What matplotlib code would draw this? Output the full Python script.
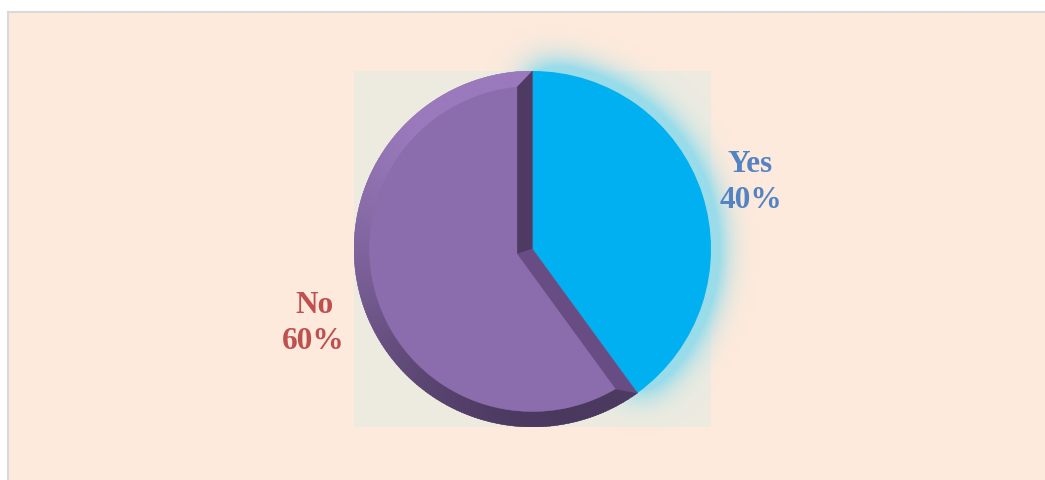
import numpy as np
import matplotlib
matplotlib.use("Agg")
import matplotlib.pyplot as plt
from matplotlib.patches import Polygon, Rectangle
from matplotlib.lines import Line2D
from matplotlib.colors import to_rgb

# ---- data ----
labels = ["Yes", "No"]
values = [40, 60]
pct_labels = ["40%", "60%"]
slice_colors = ["#00B0F0", "#8B6DAD"]
label_colors = ["#5383C3", "#C0504D"]

W, H = 1045, 480
fig = plt.figure(figsize=(W / 100, H / 100), dpi=100)
fig.patch.set_facecolor("white")

# outer chart background with top/left border
fig.add_artist(Rectangle((8 / W, 0), 1, (H - 12) / H, transform=fig.transFigure,
                         facecolor="#FDEADC", edgecolor="none", zorder=0))
fig.add_artist(Line2D([8 / W, 1], [(H - 12) / H] * 2, transform=fig.transFigure,
                      color="#D9D9D9", lw=1.5, zorder=1))
fig.add_artist(Line2D([8 / W] * 2, [0, (H - 12) / H], transform=fig.transFigure,
                      color="#D9D9D9", lw=1.5, zorder=1))

# plot area
px0, py0, pw, ph = 354, 71, 357, 356
ax = fig.add_axes([px0 / W, (H - py0 - ph) / H, pw / W, ph / H])
ax.set_facecolor("#EDEBE0")

wedges, _ = ax.pie(values, startangle=90, counterclock=False, colors=slice_colors,
                   radius=1.0, center=(0, 0), wedgeprops=dict(linewidth=0))
ax.set_frame_on(True)
for s in ax.spines.values():
    s.set_visible(False)
ax.set_xticks([])
ax.set_yticks([])

yes_w, no_w = wedges
yes_w.set_zorder(4)
no_w.set_zorder(3)

# ---- glow around the "Yes" slice (blurred mask) ----
ext = 1.5
n = 600
g = np.linspace(-ext, ext, n)
X, Y = np.meshgrid(g, g)
Rr = np.hypot(X, Y)
Ang = np.degrees(np.arctan2(Y, X))
t1, t2 = yes_w.theta1, yes_w.theta2
mask = ((Rr <= 1.0) & (Ang >= t1) & (Ang <= t2)).astype(float)
sigma = 0.1 / (2 * ext / n)
k = np.arange(-int(3 * sigma), int(3 * sigma) + 1)
kern = np.exp(-0.5 * (k / sigma) ** 2)
kern /= kern.sum()
blur = np.apply_along_axis(lambda r: np.convolve(r, kern, mode="same"), 1, mask)
blur = np.apply_along_axis(lambda c: np.convolve(c, kern, mode="same"), 0, blur)
alpha = np.clip(blur * 3.0, 0, 0.92)
rgba = np.zeros((n, n, 4))
rgba[..., :3] = to_rgb("#92DBEB")
rgba[..., 3] = alpha
ax.imshow(rgba, extent=(-ext, ext, -ext, ext), origin="lower", zorder=2,
          clip_on=False, interpolation="bilinear")
ax.set_xlim(-1, 1)
ax.set_ylim(-1, 1)
ax.set_aspect("auto")

# ---- bevel on the "No" slice ----
# with startangle 90 / clockwise: No spans CCW from 90 to 306 degrees
a_deg = (no_w.theta1) % 360
b_deg = (no_w.theta2) % 360
if b_deg < a_deg:
    b_deg += 360

d = 15.5 / 178.0
R = 1 - d
ar, br = np.radians(a_deg), np.radians(b_deg)
nA = np.array([-np.sin(ar), np.cos(ar)])
nB = np.array([np.sin(br), -np.cos(br)])
V = np.linalg.solve(np.array([nA, nB]), np.array([d, d]))
th1 = a_deg + 90 - np.degrees(np.arccos(d / R))
th2 = b_deg - 90 + np.degrees(np.arccos(d / R))

light = np.array(to_rgb("#9A7ABD"))
dark = np.array(to_rgb("#4A385E"))
N = 240
outer = np.linspace(a_deg, b_deg, N + 1)
inner = np.linspace(th1, th2, N + 1)
for i in range(N):
    am = np.radians(0.5 * (outer[i] + outer[i + 1]))
    f = 0.5 * (1 + np.cos(am - np.radians(105)))
    f = np.clip(f * 1.05, 0, 1)
    col = dark + (light - dark) * f
    oa0, oa1 = np.radians(outer[i]), np.radians(outer[i + 1] + 0.15)
    ia0, ia1 = np.radians(inner[i]), np.radians(inner[i + 1] + 0.15)
    pts = [(np.cos(oa0), np.sin(oa0)), (np.cos(oa1), np.sin(oa1)),
           (R * np.cos(ia1), R * np.sin(ia1)), (R * np.cos(ia0), R * np.sin(ia0))]
    ax.add_patch(Polygon(pts, closed=True, facecolor=col, edgecolor=col, lw=0.3, zorder=5))

# radial bevel strips
ax.add_patch(Polygon([(0, 0), (np.cos(ar), np.sin(ar)),
                      (R * np.cos(np.radians(th1)), R * np.sin(np.radians(th1))), tuple(V)],
                     closed=True, facecolor="#4E3A62", edgecolor="#4E3A62", lw=0.3, zorder=5))
ax.add_patch(Polygon([(0, 0), (np.cos(br), np.sin(br)),
                      (R * np.cos(np.radians(th2)), R * np.sin(np.radians(th2))), tuple(V)],
                     closed=True, facecolor="#684D84", edgecolor="#684D84", lw=0.3, zorder=5))

# face
ft = np.radians(np.linspace(th1, th2, 300))
face = [tuple(V)] + [(R * np.cos(t), R * np.sin(t)) for t in ft]
ax.add_patch(Polygon(face, closed=True, facecolor=slice_colors[1],
                     edgecolor=slice_colors[1], lw=0.3, zorder=6))

# ---- labels ----
font = dict(family="Liberation Serif", fontweight="bold", fontsize=22.5, ha="center", va="baseline")
pos = {"Yes": [(750.5, 172), (751, 208)], "No": [(314, 313), (313, 349)]}
for lab, pct, col in zip(labels, pct_labels, label_colors):
    (x1, y1), (x2, y2) = pos[lab]
    fig.text(x1 / W, 1 - y1 / H, lab, color=col, **font)
    fig.text(x2 / W, 1 - y2 / H, pct, color=col, **font)

fig.savefig("out.png", dpi=100, facecolor=fig.get_facecolor())
